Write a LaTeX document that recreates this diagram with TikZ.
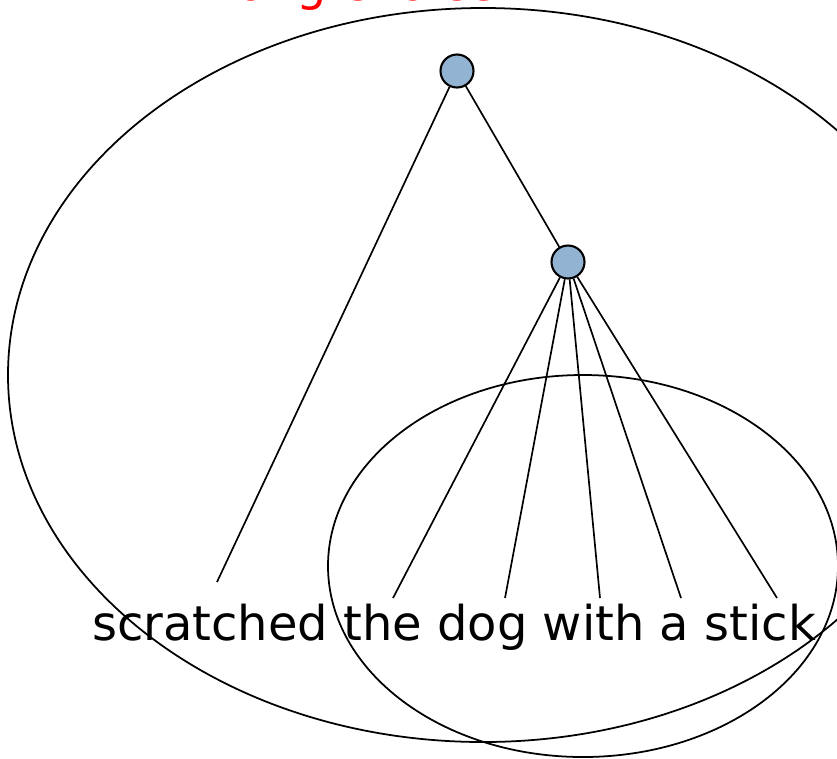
\documentclass[tikz,border=0pt]{standalone}
\usepackage{fontspec}
\setmainfont{DejaVu Sans}
\usetikzlibrary{positioning}
\definecolor{nodeblue}{RGB}{147,179,211}
\tikzset{
  treenode/.style={circle, draw=black, line width=1.2pt, fill=nodeblue, minimum size=0.66cm, inner sep=0pt},
  branch/.style={line width=0.95pt},
  ring/.style={line width=1pt},
  words/.style={font=\fontsize{27.3}{30}\selectfont, inner sep=0pt, anchor=base}
}
\begin{document}
\begin{tikzpicture}[x=0.02cm, y=-0.02cm]
        \useasboundingbox (0,0) rectangle (837,758);
        % labels
        \node (title) [words, text=red] at (335,0.5) {Wrong choice};
        \node (sentence) [words] at (454,640) {scratched the dog with a stick};
        % tree
        \node (root) [treenode] at (457,71) {};
        \node (np) [treenode] at (568,262) {};
        \coordinate (scratched) at (217,582);
        \coordinate (the) at (393,598);
        \coordinate (dog) at (505,598);
        \coordinate (with) at (600,598);
        \coordinate (a) at (681,598);
        \coordinate (stick) at (777,598);

        \draw [branch] (root) -- (scratched);
        \draw [branch] (root) -- (np);
        \foreach \w in {the,dog,with,a,stick}
            \draw [branch] (np) -- (\w);

        % constituents
        \draw [ring] (483,375) ellipse [x radius=475, y radius=367];
        \draw [ring] (583,566) ellipse [x radius=255, y radius=191];
\end{tikzpicture}
\end{document}
